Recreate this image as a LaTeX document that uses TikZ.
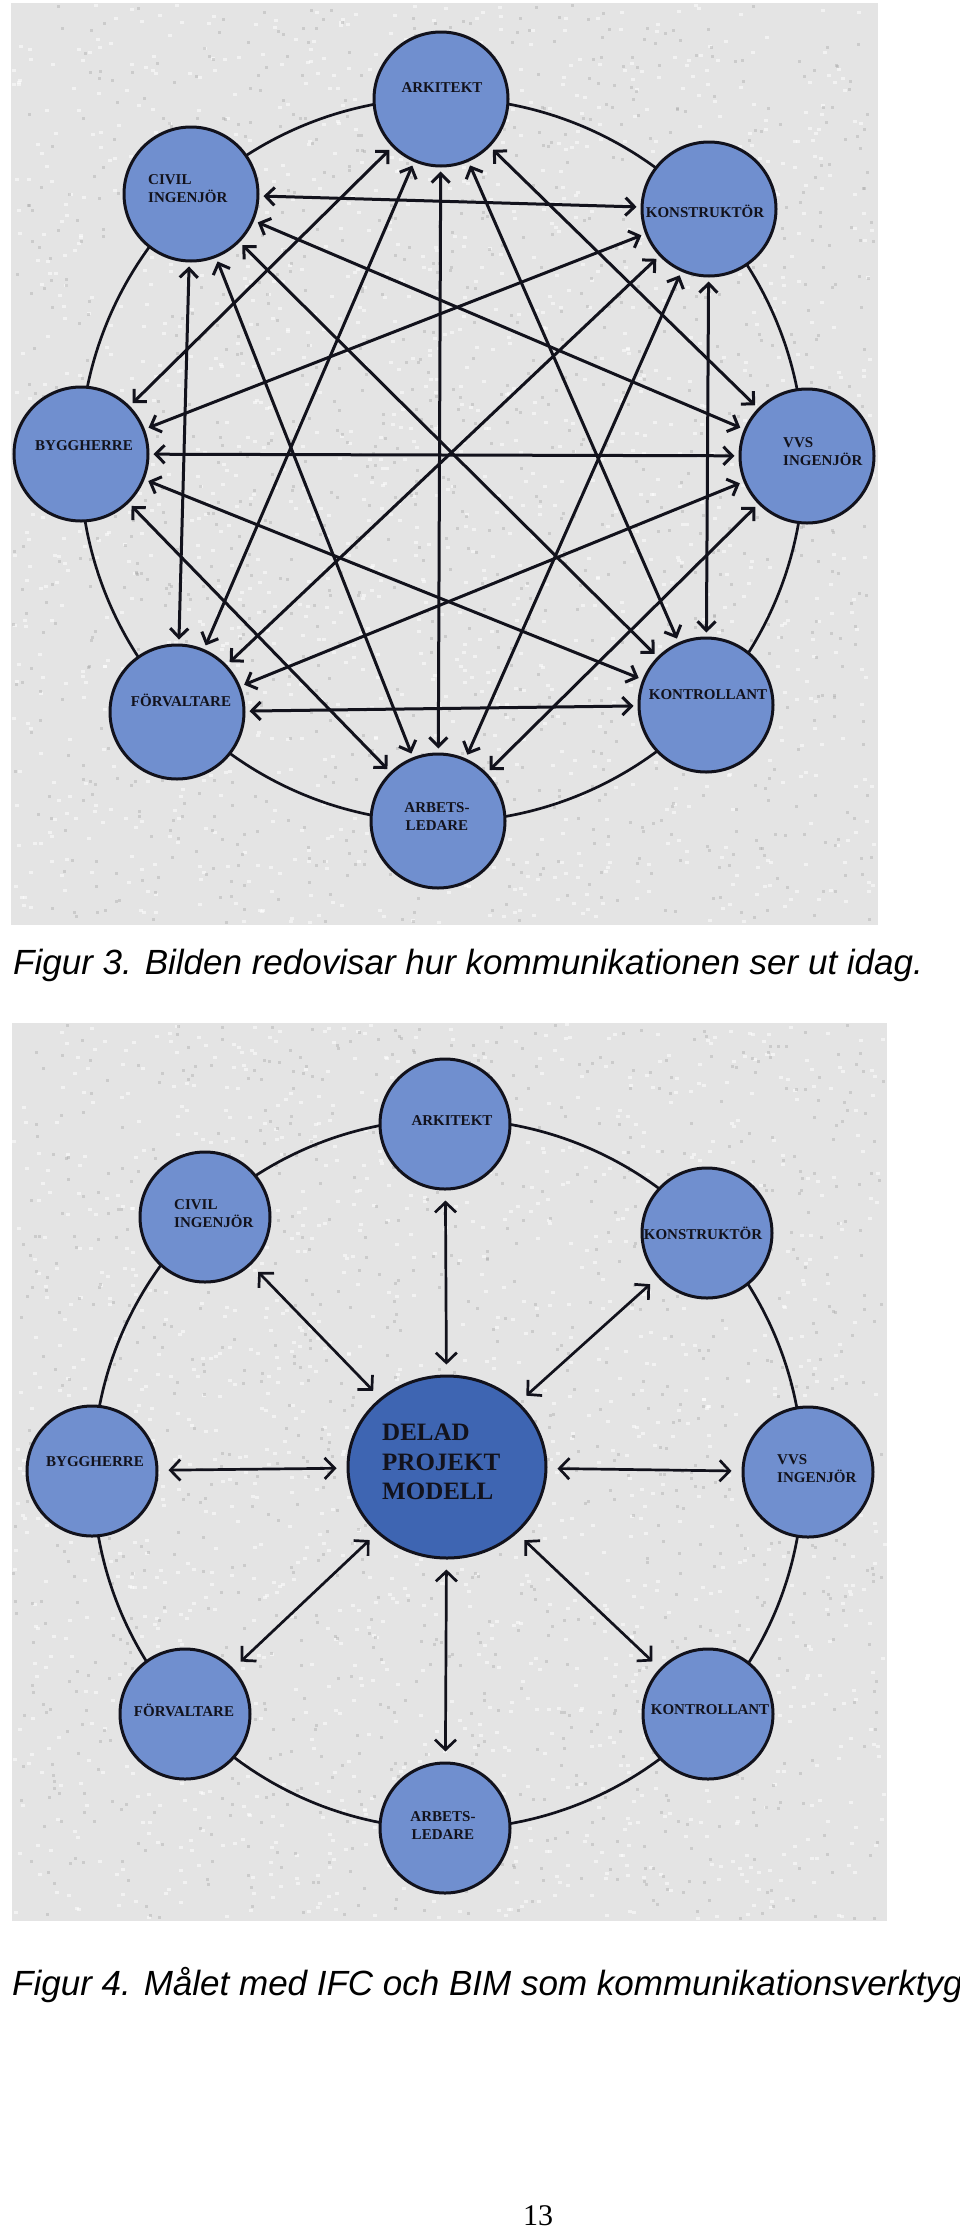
\documentclass[tikz,border=0pt]{standalone}
\usepackage{fontspec}
\setmainfont{Liberation Serif}
\newfontfamily\capfont{Liberation Sans}
\usetikzlibrary{arrows.meta,shapes.geometric}
\definecolor{nodeblue}{RGB}{112,143,207}
\definecolor{centerblue}{RGB}{62,101,178}
\definecolor{texgray}{RGB}{228,228,228}
\definecolor{edgecol}{RGB}{18,18,28}
\begin{document}
\begin{tikzpicture}[x=1pt,y=-1pt,
  member/.style={circle,draw=edgecol,line width=3pt,fill=nodeblue,minimum size=134pt,inner sep=0pt},
  member2/.style={member,minimum size=130pt},
  lbl/.style={font=\bfseries\fontsize{15}{18}\selectfont,text=edgecol,inner sep=0pt,align=center},
  lbll/.style={lbl,align=left,anchor=west},
  ringline/.style={draw=edgecol,line width=2.7pt},
  link/.style={draw=edgecol,line width=3pt,{Straight Barb[length=9pt,width=18pt]}-{Straight Barb[length=9pt,width=18pt]},shorten <=4pt,shorten >=4pt},
  link2/.style={draw=edgecol,line width=2.7pt,{Straight Barb[length=10pt,width=21pt]}-{Straight Barb[length=10pt,width=21pt]},shorten <=10pt,shorten >=10pt},
  backdrop/.style={fill=texgray},
  caption/.style={font=\capfont\itshape\fontsize{35}{42}\selectfont,anchor=base west,inner sep=0pt}
]
\useasboundingbox (0,0) rectangle (960,2230);
\fill[white] (0,0) rectangle (960,2230);
% backdrops
\fill[backdrop] (11,3) rectangle (878,925);
\fill[backdrop] (12,1023) rectangle (887,1921);
\pgfmathsetseed{7}
\foreach \i in {1,...,1400}{%
  \pgfmathsetmacro\rx{11+862*rnd}\pgfmathsetmacro\ry{3+918*rnd}%
  \fill[white,opacity=.55] (\rx,\ry) rectangle ++(4,3);
  \pgfmathsetmacro\sx{12+871*rnd}\pgfmathsetmacro\sy{1023+894*rnd}%
  \fill[white,opacity=.55] (\sx,\sy) rectangle ++(4,3);
}
\foreach \i in {1,...,1100}{%
  \pgfmathsetmacro\rx{11+862*rnd}\pgfmathsetmacro\ry{3+918*rnd}%
  \fill[black!35,opacity=.4] (\rx,\ry) rectangle ++(3,3);
  \pgfmathsetmacro\sx{12+871*rnd}\pgfmathsetmacro\sy{1023+894*rnd}%
  \fill[black!35,opacity=.4] (\sx,\sy) rectangle ++(3,3);
}
% ===== Figure 3 =====
\coordinate (ring1) at (442,460);
\draw[ringline] (ring1) circle[radius=362];
\node[member] (ark1) at (441,99) {};
\node[member] (kon1) at (709,209) {};
\node[member] (vvs1) at (807,456) {};
\node[member] (ktr1) at (706,705) {};
\node[member] (arb1) at (438,821) {};
\node[member] (for1) at (177,712) {};
\node[member] (byg1) at (81,454) {};
\node[member] (civ1) at (191,194) {};
\node[lbl] (ark1t) at (442,88) {ARKITEKT};
\node[lbl] (kon1t) at (705,211) {KONSTRUKTÖR};
\node[lbll] (vvs1t) at (783,452) {VVS\\INGENJÖR};
\node[lbl] (ktr1t) at (708,695) {KONTROLLANT};
\node[lbl] (arb1t) at (437,817) {ARBETS-\\LEDARE};
\node[lbl] (for1t) at (181,700) {FÖRVALTARE};
\node[lbl] (byg1t) at (84,446) {BYGGHERRE};
\node[lbll] (civ1t) at (148,189) {CIVIL\\INGENJÖR};
\foreach \a/\b in {ark1/vvs1,ark1/ktr1,ark1/arb1,ark1/for1,ark1/byg1,
                   kon1/ktr1,kon1/arb1,kon1/for1,kon1/byg1,kon1/civ1,
                   vvs1/arb1,vvs1/for1,vvs1/byg1,vvs1/civ1,
                   ktr1/for1,ktr1/byg1,ktr1/civ1,
                   arb1/byg1,arb1/civ1,
                   for1/civ1}
  \draw[link] (\a) -- (\b);
\node[caption] (cap3) at (13,974) {Figur 3. Bilden redovisar hur kommunikationen ser ut idag.};
% ===== Figure 4 =====
\coordinate (ring2) at (448,1474);
\draw[ringline] (ring2) circle[radius=355];
\node[member2] (ark2) at (445,1124) {};
\node[member2] (kon2) at (707,1233) {};
\node[member2] (vvs2) at (808,1472) {};
\node[member2] (ktr2) at (708,1714) {};
\node[member2] (arb2) at (445,1828) {};
\node[member2] (for2) at (185,1714) {};
\node[member2] (byg2) at (92,1471) {};
\node[member2] (civ2) at (205,1217) {};
\node[ellipse,draw=edgecol,line width=3pt,fill=centerblue,minimum width=198pt,minimum height=182pt,inner sep=0pt] (del) at (447,1467) {};
\node[lbl] (ark2t) at (452,1121) {ARKITEKT};
\node[lbl] (kon2t) at (703,1233) {KONSTRUKTÖR};
\node[lbll] (vvs2t) at (777,1469) {VVS\\INGENJÖR};
\node[lbl] (ktr2t) at (710,1710) {KONTROLLANT};
\node[lbl] (arb2t) at (443,1826) {ARBETS-\\LEDARE};
\node[lbl] (for2t) at (184,1710) {FÖRVALTARE};
\node[lbl] (byg2t) at (95,1462) {BYGGHERRE};
\node[lbll] (civ2t) at (174,1214) {CIVIL\\INGENJÖR};
\node[font=\bfseries\fontsize{25}{29.5}\selectfont,text=edgecol,align=left,anchor=west,inner sep=0pt] (delt) at (382,1462) {DELAD\\PROJEKT\\MODELL};
\foreach \b in {ark2,kon2,vvs2,ktr2,arb2,for2,byg2,civ2}
  \draw[link2] (del) -- (\b);
\node[caption] (cap4) at (12,1995) {Figur 4. Målet med IFC och BIM som kommunikationsverktyg};
\node[font=\fontsize{30}{36}\selectfont,anchor=base,inner sep=0pt] (page) at (538,2225) {13};
\end{tikzpicture}
\end{document}
